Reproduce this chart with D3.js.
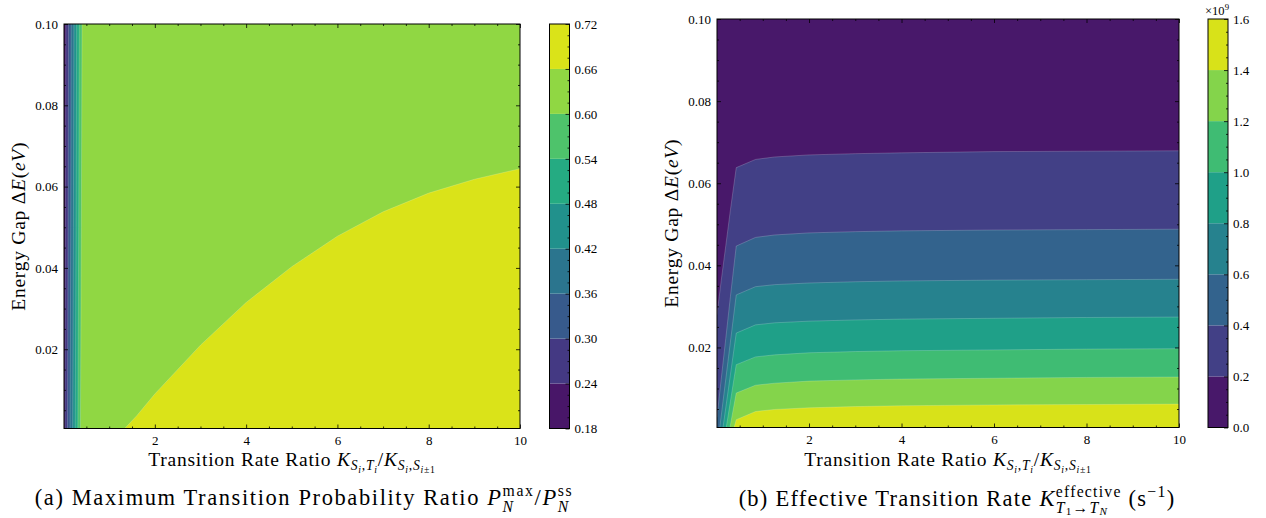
<!DOCTYPE html>
<html>
<head>
<meta charset="utf-8">
<script src="https://cdn.jsdelivr.net/npm/d3@7"></script>
<style>
  body { margin: 0; background: #fff; }
  svg { display: block; }
  text { font-family: "Liberation Serif", "DejaVu Serif", serif; fill: #000; }
</style>
</head>
<body>
<svg id="fig" width="1266" height="518"></svg>
<script>
// ---------------- data ----------------
const ratioRange = [0.01, 10];          // K_{S,T}/K_{S,S}
const gapRange = [0.0005, 0.1];         // ΔE (eV)
const ratioTicks = [2, 4, 6, 8, 10];
const gapTicks = [0.02, 0.04, 0.06, 0.08, 0.10];

// panel (a): P_N^max / P_N^ss contour levels
const probLevels = [0.18, 0.24, 0.30, 0.36, 0.42, 0.48, 0.54, 0.60, 0.66, 0.72];
// iso-lines [ratio, gap] (each separates a level from the band below it)
const prob024 = [[0.029, 0.0005], [0.042, 0.05], [0.0495, 0.1]];
const prob030 = [[0.086, 0.0005], [0.100, 0.05], [0.109, 0.1]];
const prob036 = [[0.143, 0.0005], [0.158, 0.05], [0.168, 0.1]];
const prob042 = [[0.199, 0.0005], [0.216, 0.05], [0.227, 0.1]];
const prob048 = [[0.256, 0.0005], [0.274, 0.05], [0.287, 0.1]];
const prob054 = [[0.313, 0.0005], [0.332, 0.05], [0.346, 0.1]];
const prob060 = [[0.370, 0.0005], [0.390, 0.05], [0.405, 0.1]];
const prob066 = [[1.34, 0.0005], [1.6, 0.0036], [2, 0.0090], [3, 0.0210], [4, 0.0315],
                 [5, 0.0403], [6, 0.0478], [7, 0.0538], [8, 0.0584], [9, 0.0618], [10, 0.0644]];

// panel (b): K_eff (×10^9 s^-1) contour levels
const rateLevels = [0, 0.2, 0.4, 0.6, 0.8, 1.0, 1.2, 1.4, 1.6];
const rate02 = [[0.01, 0.028], [0.1, 0.0362], [0.2, 0.0448], [0.3, 0.0535], [0.426, 0.0638],
                [0.843, 0.0658], [1.26, 0.0664], [2, 0.0669], [3, 0.0672], [4, 0.0674],
                [6, 0.0677], [8, 0.0678], [10, 0.0679]];
const rate04 = [[0.01, 0.003], [0.1, 0.0122], [0.2, 0.0222], [0.3, 0.0324], [0.426, 0.0447],
                [0.843, 0.0468], [1.26, 0.0474], [2, 0.0479], [3, 0.0482], [4, 0.0484],
                [6, 0.0486], [8, 0.0487], [10, 0.0488]];
const rate06 = [[0.07, 0.0005], [0.426, 0.0328], [0.843, 0.0348], [1.26, 0.0353], [2, 0.0357],
                [3, 0.0360], [4, 0.0362], [6, 0.0364], [8, 0.0365], [10, 0.0366]];
const rate08 = [[0.14, 0.0005], [0.426, 0.0235], [0.843, 0.0255], [1.26, 0.0260], [2, 0.0264],
                [3, 0.0267], [4, 0.0269], [6, 0.0271], [8, 0.0273], [10, 0.0274]];
const rate10 = [[0.21, 0.0005], [0.426, 0.0158], [0.843, 0.0177], [1.26, 0.0182], [2, 0.0187],
                [3, 0.0190], [4, 0.0192], [6, 0.0194], [8, 0.0196], [10, 0.0197]];
const rate12 = [[0.29, 0.0005], [0.426, 0.0089], [0.843, 0.0108], [1.26, 0.0113], [2, 0.0118],
                [3, 0.0121], [4, 0.0123], [6, 0.0125], [8, 0.0127], [10, 0.0128]];
const rate14 = [[0.38, 0.0005], [0.426, 0.0024], [0.843, 0.0044], [1.26, 0.0049], [2, 0.0053],
                [3, 0.0056], [4, 0.0058], [6, 0.0060], [8, 0.0061], [10, 0.0062]];

// ---------------- helpers ----------------
const svg = d3.select("#fig");
const FONT = '"Liberation Serif", "DejaVu Serif", serif';
const TICK_FONT = 13;

// Close an iso-line into the polygon holding the higher values,
// walking the frame clockwise from its last point back to its first.
function closeRegion(pts, xd, yd) {
  const [x0, x1] = xd, [y0, y1] = yd;
  const W = x1 - x0, H = y1 - y0;
  const near = (a, b, s) => Math.abs(a - b) < s * 1e-6;
  const per = ([x, y]) => {
    if (near(y, y1, H)) return (x - x0) / W;
    if (near(x, x1, W)) return 1 + (y1 - y) / H;
    if (near(y, y0, H)) return 2 + (x1 - x) / W;
    return 3 + (y - y0) / H;
  };
  const corners = [[x1, y1], [x1, y0], [x0, y0], [x0, y1]];
  const tEnd = per(pts[pts.length - 1]);
  let tStart = per(pts[0]);
  if (tStart <= tEnd) tStart += 4;
  const out = pts.slice();
  for (let k = 1; k <= 8; k++) {
    if (k > tEnd && k < tStart) out.push(corners[(k - 1) % 4]);
  }
  return out;
}

// Text with sub/superscripts; parts: {s, i (italic), sh (em, + = down), k (scale)}
// or {sup:[...], sub:[...]} for stacked scripts.
function mathText(g, parts, size, spacing) {
  const t = g.append("text").style("font-size", size + "px")
    .style("letter-spacing", (spacing || 0) + "px");
  let cur = 0, pendingDx = 0;
  const run = p => {
    const off = (p.sh || 0) * size;
    const sp = t.append("tspan").text(p.s)
      .style("font-size", size * (p.k || 1) + "px")
      .style("font-style", p.i ? "italic" : "normal")
      .attr("dy", off - cur);
    if (pendingDx) { sp.attr("dx", pendingDx); pendingDx = 0; }
    cur = off;
    return sp.node().getComputedTextLength();
  };
  parts.forEach(p => {
    if (p.sup) {
      const wSup = d3.sum(p.sup.map(run));
      pendingDx = -wSup;
      const wSub = d3.sum(p.sub.map(run));
      pendingDx = Math.max(0, wSup - wSub);
    } else run(p);
  });
  return t;
}

function styleAxis(g) {
  g.attr("font-family", FONT).attr("font-size", TICK_FONT);
  g.select(".domain").remove();
  g.selectAll(".tick line").attr("stroke", "#000").attr("stroke-width", 0.8);
  g.selectAll(".tick text").attr("fill", "#000");
}

function drawPanel(o) {
  const x = d3.scaleLinear().domain(ratioRange).range([o.left, o.right]);
  const y = d3.scaleLinear().domain(gapRange).range([o.bottom, o.top]);
  const nb = o.levels.length - 1;
  const colors = d3.range(nb).map(i => d3.interpolateViridis((i + 0.5) / nb));
  const g = svg.append("g");

  const clipId = o.id + "-clip";
  svg.append("clipPath").attr("id", clipId).append("rect")
    .attr("x", x(ratioRange[0])).attr("y", y(gapRange[1]))
    .attr("width", x(ratioRange[1]) - x(ratioRange[0]))
    .attr("height", y(gapRange[0]) - y(gapRange[1]));
  const plot = g.append("g").attr("clip-path", `url(#${clipId})`);

  // lowest band fills the whole frame, higher bands painted on top
  plot.append("rect")
    .attr("x", x(ratioRange[0])).attr("y", y(gapRange[1]))
    .attr("width", x(ratioRange[1]) - x(ratioRange[0]))
    .attr("height", y(gapRange[0]) - y(gapRange[1]))
    .attr("fill", colors[0]);
  const line = d3.line().x(d => x(d[0])).y(d => y(d[1]));
  o.edges.forEach((e, i) => {
    plot.append("path").attr("d", line(closeRegion(e, ratioRange, gapRange)) + "Z")
      .attr("fill", colors[i + 1]);
  });
  o.edges.forEach(e => {
    plot.append("path").attr("d", line(e)).attr("fill", "none")
      .attr("stroke", "#fff").attr("stroke-opacity", 0.28).attr("stroke-width", 0.7);
  });

  // ticks on all four sides, pointing inward
  const minorX = d3.range(0.5, 10, 0.5).filter(v => Math.abs(v / 2 - Math.round(v / 2)) > 1e-6);
  const minorY = d3.range(1, 20).map(k => k * 0.005).filter(v => Math.abs(v / 0.02 - Math.round(v / 0.02)) > 1e-6);
  const ax = (gen, tr, size, ticks, fmt, pad) => {
    const a = g.append("g").attr("transform", tr)
      .call(gen.tickValues(ticks).tickSize(-size).tickSizeOuter(0).tickPadding(pad || 0).tickFormat(fmt || ""));
    styleAxis(a);
    return a;
  };
  ax(d3.axisBottom(x), `translate(0,${o.bottom})`, 4, ratioTicks, d3.format("d"), 7);
  ax(d3.axisBottom(x), `translate(0,${o.bottom})`, 2, minorX);
  ax(d3.axisTop(x), `translate(0,${o.top})`, 4, ratioTicks);
  ax(d3.axisTop(x), `translate(0,${o.top})`, 2, minorX);
  ax(d3.axisLeft(y), `translate(${o.left},0)`, 4, gapTicks, d3.format(".2f"), 6);
  ax(d3.axisLeft(y), `translate(${o.left},0)`, 2, minorY);
  ax(d3.axisRight(y), `translate(${o.right},0)`, 4, gapTicks);
  ax(d3.axisRight(y), `translate(${o.right},0)`, 2, minorY);

  g.append("rect").attr("x", o.left).attr("y", o.top)
    .attr("width", o.right - o.left).attr("height", o.bottom - o.top)
    .attr("fill", "none").attr("stroke", "#000").attr("stroke-width", 1);

  // axis titles
  const xl = mathText(g, [
    { s: "Transition Rate Ratio " }, { s: "K", i: 1 },
    { s: "S", i: 1, sh: 0.22, k: 0.7 }, { s: "i", i: 1, sh: 0.36, k: 0.5 },
    { s: ",", sh: 0.22, k: 0.7 }, { s: "T", i: 1, sh: 0.22, k: 0.7 }, { s: "i", i: 1, sh: 0.36, k: 0.5 },
    { s: "/", sh: 0 }, { s: "K", i: 1 },
    { s: "S", i: 1, sh: 0.22, k: 0.7 }, { s: "i", i: 1, sh: 0.36, k: 0.5 },
    { s: ",", sh: 0.22, k: 0.7 }, { s: "S", i: 1, sh: 0.22, k: 0.7 },
    { s: "i", i: 1, sh: 0.36, k: 0.5 }, { s: "±1", sh: 0.36, k: 0.5 }
  ], 19.5, 0.75);
  xl.attr("text-anchor", "middle").attr("x", (o.left + o.right) / 2).attr("y", 466);

  const yl = mathText(g, [
    { s: "Energy Gap " }, { s: "Δ" }, { s: "E", i: 1 }, { s: "(" }, { s: "eV", i: 1 }, { s: ")" }
  ], 19.5, 0.75);
  yl.attr("text-anchor", "middle")
    .attr("transform", `translate(${o.ylabelX},${(o.top + o.bottom) / 2}) rotate(-90)`);

  // colour bar
  const c = d3.scaleLinear().domain([o.levels[0], o.levels[nb]]).range([o.bottom, o.top]);
  const cb = svg.append("g");
  cb.selectAll("rect.band").data(d3.range(nb)).join("rect").attr("class", "band")
    .attr("x", o.cbLeft).attr("width", o.cbWidth)
    .attr("y", i => c(o.levels[i + 1])).attr("height", i => c(o.levels[i]) - c(o.levels[i + 1]))
    .attr("fill", i => colors[i]);
  const step = o.levels[1] - o.levels[0];
  const cMinor = d3.range(nb * 4 + 1).map(k => o.levels[0] + k * step / 4).filter((v, k) => k % 4);
  const ca = cb.append("g").attr("transform", `translate(${o.cbLeft + o.cbWidth},0)`)
    .call(d3.axisRight(c).tickValues(o.levels).tickSize(-4).tickSizeOuter(0).tickPadding(5).tickFormat(d3.format(o.cbFormat)));
  styleAxis(ca);
  const cm = cb.append("g").attr("transform", `translate(${o.cbLeft + o.cbWidth},0)`)
    .call(d3.axisRight(c).tickValues(cMinor).tickSize(-2).tickSizeOuter(0).tickFormat(""));
  styleAxis(cm);
  cb.append("rect").attr("x", o.cbLeft).attr("y", o.top).attr("width", o.cbWidth)
    .attr("height", o.bottom - o.top).attr("fill", "none").attr("stroke", "#000").attr("stroke-width", 1);
  return { g, cb };
}

// ---------------- panel (a) ----------------
drawPanel({
  id: "prob", left: 64, right: 520, top: 24, bottom: 428.5, ylabelX: 25,
  levels: probLevels,
  edges: [prob024, prob030, prob036, prob042, prob048, prob054, prob060, prob066],
  cbLeft: 549.5, cbWidth: 20, cbFormat: ".2f"
});

// ---------------- panel (b) ----------------
const pb = drawPanel({
  id: "rate", left: 717, right: 1179, top: 19, bottom: 427.5, ylabelX: 678,
  levels: rateLevels,
  edges: [rate02, rate04, rate06, rate08, rate10, rate12, rate14],
  cbLeft: 1208, cbWidth: 20, cbFormat: ".1f"
});
// multiplier for the colour-bar scale
mathText(pb.cb, [{ s: "×10" }, { s: "9", sh: -0.4, k: 0.7 }], 12.5)
  .attr("text-anchor", "end").attr("x", 1229).attr("y", 15);

// ---------------- sub-captions ----------------
mathText(svg, [
  { s: "(a) Maximum Transition Probability Ratio " }, { s: "P", i: 1 },
  { sup: [{ s: "max", sh: -0.38, k: 0.7 }], sub: [{ s: "N", i: 1, sh: 0.3, k: 0.7 }] },
  { s: "/", sh: 0 }, { s: "P", i: 1 },
  { sup: [{ s: "ss", sh: -0.38, k: 0.7 }], sub: [{ s: "N", i: 1, sh: 0.3, k: 0.7 }] }
], 22.5, 1.6).attr("text-anchor", "middle").attr("x", 304).attr("y", 505);

mathText(svg, [
  { s: "(b) Effective Transition Rate " }, { s: "K", i: 1 },
  { sup: [{ s: "effective", sh: -0.42, k: 0.7 }],
    sub: [{ s: "T", i: 1, sh: 0.3, k: 0.7 }, { s: "1", sh: 0.42, k: 0.5 }, { s: "→", sh: 0.3, k: 0.7 },
          { s: "T", i: 1, sh: 0.3, k: 0.7 }, { s: "N", i: 1, sh: 0.42, k: 0.5 }] },
  { s: " (s", sh: 0 }, { s: "−1", sh: -0.4, k: 0.7 }, { s: ")", sh: 0 }
], 22.5, 1.25).attr("text-anchor", "middle").attr("x", 957).attr("y", 506);
</script>
</body>
</html>
